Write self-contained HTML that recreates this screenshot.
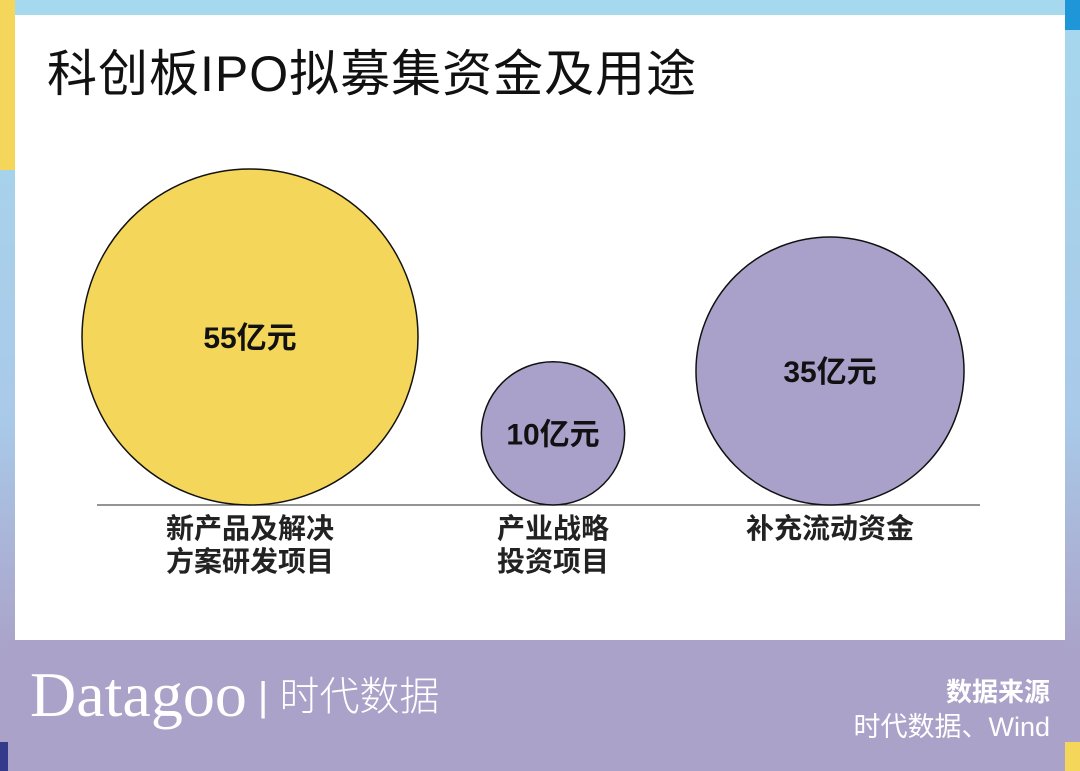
<!DOCTYPE html>
<html><head><meta charset="utf-8"><style>
body{margin:0;width:1080px;height:771px;overflow:hidden;font-family:"Liberation Sans","Noto Sans CJK SC",sans-serif;}
#bg{position:absolute;left:0;top:0;width:1080px;height:771px;background:linear-gradient(#a6d8ee 0%,#a9c9e8 55%,#aaa2c8 85%,#aaa2c8 100%);}
</style></head><body>
<div id="bg"></div>
<div style="position:absolute;left:0;top:0;width:15px;height:170px;background:#f4d75a"></div>
<div style="position:absolute;left:0;top:742px;width:8px;height:29px;background:#343b8a"></div>
<div style="position:absolute;left:1065px;top:742px;width:15px;height:29px;background:#f4d75a"></div>
<div style="position:absolute;left:1065px;top:0;width:15px;height:30px;background:#1f96d8"></div>
<div style="position:absolute;left:8px;top:640px;width:1057px;height:131px;background:#aaa2c8"></div>
<div style="position:absolute;left:15px;top:15px;width:1050px;height:625px;background:#fff"></div>
<div style="position:absolute;left:47px;top:42px;font-size:50px;color:#111;letter-spacing:1px;line-height:64px">科创板IPO拟募集资金及用途</div>
<svg id="chart" width="1080" height="771" style="position:absolute;left:0;top:0"></svg>
<div style="position:absolute;left:30px;top:658px;color:#fff;font-family:'Liberation Serif','Noto Serif CJK SC',serif;font-size:64px;line-height:74px;white-space:nowrap">Datagoo<span style="font-family:'Liberation Sans','Noto Sans CJK SC',sans-serif;font-size:40px;font-weight:300;vertical-align:6px"> | 时代数据</span></div>
<div style="position:absolute;right:30px;top:672px;color:#fff;font-size:26px;font-weight:bold;text-align:right">数据来源</div>
<div style="position:absolute;right:30px;top:705px;color:#fff;font-size:27px;text-align:right">时代数据、Wind</div>
<script>
const categories=[["新产品及解决","方案研发项目"],["产业战略","投资项目"],["补充流动资金"]];
const values=[55,10,35];
const valueLabels=["55亿元","10亿元","35亿元"];
const colors=["#f4d75a","#a9a1ca","#a9a1ca"];
const svg=document.getElementById('chart');
const NS="http://www.w3.org/2000/svg";
const baseY=505, maxR=168, maxV=55;
const centersX=[250,553,830];
function rScale(v){return maxR*Math.sqrt(v/maxV);}
const ln=document.createElementNS(NS,'line');


ln.setAttribute('x1',97);ln.setAttribute('x2',980);ln.setAttribute('y1',baseY);ln.setAttribute('y2',baseY);
ln.setAttribute('stroke','#555');ln.setAttribute('stroke-width','1.2');
svg.appendChild(ln);
values.forEach((v,i)=>{
 const r=rScale(v), cx=centersX[i], cy=baseY-r;
 const c=document.createElementNS(NS,'circle');
 
 
 c.setAttribute('cx',cx);c.setAttribute('cy',cy);c.setAttribute('r',r);
 c.setAttribute('fill',colors[i]);c.setAttribute('stroke','#111');c.setAttribute('stroke-width','1.5');
 svg.appendChild(c);
 const t=document.createElementNS(NS,'text');
 
 
 t.setAttribute('x',cx);t.setAttribute('y',cy+11);t.setAttribute('text-anchor','middle');
 t.setAttribute('font-size','30');t.setAttribute('font-weight','bold');t.setAttribute('fill','#111');
 t.textContent=valueLabels[i];svg.appendChild(t);
 categories[i].forEach((s,j)=>{
  const l=document.createElementNS(NS,'text');
  
  
  l.setAttribute('x',cx);l.setAttribute('y',538+j*33);l.setAttribute('text-anchor','middle');
  l.setAttribute('font-size','28');l.setAttribute('font-weight','bold');l.setAttribute('fill','#222');
  l.textContent=s;svg.appendChild(l);
 });
});
</script>
</body></html>
